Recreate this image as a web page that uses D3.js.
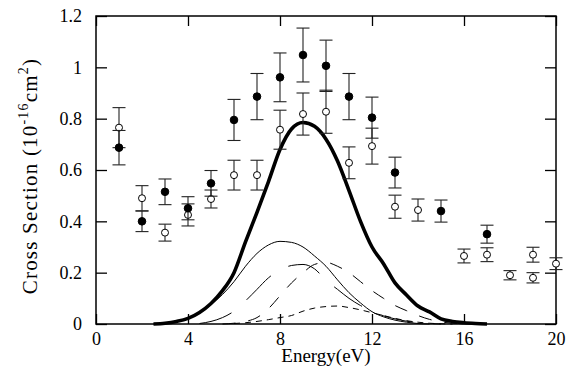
<!DOCTYPE html>
<html>
<head>
<meta charset="utf-8">
<script src="https://cdn.jsdelivr.net/npm/d3@7"></script>
<style>
  body { margin: 0; background: #fff; }
  svg { display: block; }
  .axis line { stroke: #000; stroke-width: 1.3; }
  .axis path { display: none; }
</style>
</head>
<body>
<div id="chart"></div>
<script>
// measured points (energy, cross section, error)
const filledE = [1, 2, 3, 4, 5, 6, 7, 8, 9, 10, 11, 12, 13, 15, 17];
const filledV = [0.687, 0.40, 0.515, 0.451, 0.548, 0.795, 0.886, 0.961, 1.048, 1.006, 0.886, 0.804, 0.59, 0.44, 0.35];
const filledErr = [0.067, 0.04, 0.05, 0.045, 0.05, 0.08, 0.09, 0.095, 0.105, 0.1, 0.09, 0.08, 0.06, 0.043, 0.035];

const openE = [1, 2, 3, 4, 5, 6, 7, 8, 9, 10, 11, 12, 13, 14, 16, 17, 18, 19, 19, 20];
const openV = [0.765, 0.49, 0.356, 0.425, 0.487, 0.58, 0.58, 0.757, 0.818, 0.827, 0.628, 0.693, 0.457, 0.444, 0.265, 0.27, 0.19, 0.27, 0.18, 0.235];
const openErr = [0.078, 0.049, 0.033, 0.043, 0.035, 0.058, 0.058, 0.076, 0.082, 0.084, 0.062, 0.07, 0.045, 0.043, 0.027, 0.027, 0.018, 0.029, 0.02, 0.023];

const curveE = [2.5, 3, 3.5, 4, 4.5, 5, 5.5, 6, 6.5, 7, 7.5, 8, 8.5, 9, 9.5, 10,
                10.5, 11, 11.5, 12, 12.5, 13, 13.5, 14, 14.5, 15, 15.5, 16, 16.5, 17];
const totalV = [0, 0.003, 0.01, 0.022, 0.045, 0.08, 0.13, 0.2, 0.32, 0.435, 0.555, 0.68, 0.76, 0.785, 0.77, 0.72,
                0.635, 0.52, 0.4, 0.3, 0.235, 0.16, 0.113, 0.07, 0.047, 0.02, 0.01, 0.005, 0.002, 0];
const comp1V = [0, 0.004, 0.011, 0.023, 0.042, 0.075, 0.115, 0.165, 0.225, 0.275, 0.308, 0.322, 0.318, 0.3, 0.265, 0.225,
                0.172, 0.122, 0.082, 0.048, 0.028, 0.015, 0.007, 0.002, 0, null, null, null, null, null];
const comp2V = [null, null, null, null, 0.002, 0.01, 0.025, 0.05, 0.09, 0.135, 0.18, 0.21, 0.228, 0.232, 0.215, 0.17,
                0.135, 0.1, 0.072, 0.05, 0.032, 0.02, 0.011, 0.005, 0.002, 0, null, null, null, null];
const comp3V = [null, null, null, null, null, null, 0, 0.003, 0.01, 0.025, 0.06, 0.11, 0.16, 0.2, 0.232, 0.24,
                0.225, 0.2, 0.165, 0.13, 0.1, 0.072, 0.052, 0.033, 0.018, 0.008, 0.003, 0, null, null];
const comp4V = [null, null, null, null, null, null, null, 0.002, 0.005, 0.01, 0.017, 0.025, 0.033, 0.05, 0.062, 0.068,
                0.07, 0.064, 0.055, 0.044, 0.033, 0.022, 0.013, 0.007, 0.003, 0.001, 0, null, null, null];

const xTicks = [0, 4, 8, 12, 16, 20];
const yTicks = [0, 0.2, 0.4, 0.6, 0.8, 1, 1.2];

const SERIF = '"Liberation Serif", "Times New Roman", serif';
const W = 574, H = 379;
const margin = { left: 96, top: 16, right: 18, bottom: 55 };
const width = W - margin.left - margin.right;
const height = H - margin.top - margin.bottom;

const svg = d3.select('#chart').append('svg')
    .attr('width', W)
    .attr('height', H)
    .attr('font-family', SERIF);

const g = svg.append('g')
    .attr('transform', `translate(${margin.left},${margin.top})`);

const x = d3.scaleLinear().domain([0, 20]).range([0, width]);
const y = d3.scaleLinear().domain([0, 1.2]).range([height, 0]);

function styleAxis(sel) {
    sel.attr('font-family', SERIF).attr('font-size', 18);
    sel.selectAll('text').attr('fill', '#000').attr('font-family', SERIF);
}

// axes, ticks pointing inward on all four sides
g.append('g').attr('class', 'axis')
    .attr('transform', `translate(0,${height})`)
    .call(d3.axisBottom(x).tickValues(xTicks).tickSize(-10).tickPadding(8).tickFormat(d3.format('d')))
    .call(styleAxis);
g.append('g').attr('class', 'axis')
    .call(d3.axisTop(x).tickValues(xTicks).tickSize(-10).tickFormat(''));
g.append('g').attr('class', 'axis')
    .call(d3.axisLeft(y).tickValues(yTicks).tickSize(-11).tickPadding(14).tickFormat(d => d === 0 || d === 1 ? d : d3.format('.1f')(d)))
    .call(styleAxis);
g.append('g').attr('class', 'axis')
    .attr('transform', `translate(${width},0)`)
    .call(d3.axisRight(y).tickValues(yTicks).tickSize(-11).tickFormat(''));

g.append('rect')
    .attr('width', width).attr('height', height)
    .attr('fill', 'none').attr('stroke', '#000').attr('stroke-width', 1.5);

// curves
const curves = [
    { v: totalV, w: 3.6, dash: null },
    { v: comp1V, w: 1, dash: null },
    { v: comp2V, w: 1, dash: '34,20' },
    { v: comp3V, w: 1, dash: '13,13' },
    { v: comp4V, w: 1, dash: '6,5' }
];
const line = d3.line()
    .defined(d => d[1] != null)
    .x(d => x(d[0])).y(d => y(d[1]))
    .curve(d3.curveMonotoneX);

curves.forEach(c => {
    g.append('path')
        .datum(curveE.map((e, i) => [e, c.v[i]]))
        .attr('fill', 'none')
        .attr('stroke', '#000')
        .attr('stroke-width', c.w)
        .attr('stroke-dasharray', c.dash)
        .attr('d', line);
});

// error bars + markers
function points(es, vs, errs, filled) {
    const data = es.map((e, i) => ({ e, v: vs[i], err: errs[i] }));
    const bars = g.append('g').attr('stroke', '#222').attr('stroke-width', 1.1);
    data.forEach(d => {
        const cx = x(d.e), y0 = y(d.v - d.err), y1 = y(d.v + d.err);
        bars.append('line').attr('x1', cx).attr('x2', cx).attr('y1', y0).attr('y2', y1);
        bars.append('line').attr('x1', cx - 6.5).attr('x2', cx + 6.5).attr('y1', y0).attr('y2', y0);
        bars.append('line').attr('x1', cx - 6.5).attr('x2', cx + 6.5).attr('y1', y1).attr('y2', y1);
    });
    g.append('g').selectAll('circle').data(data).join('circle')
        .attr('cx', d => x(d.e)).attr('cy', d => y(d.v))
        .attr('r', filled ? 3.8 : 3.5)
        .attr('fill', filled ? '#000' : '#fff')
        .attr('stroke', '#000').attr('stroke-width', 1);
}
points(openE, openV, openErr, false);
points(filledE, filledV, filledErr, true);

// axis titles
svg.append('text')
    .attr('x', margin.left + width / 2).attr('y', 362)
    .attr('text-anchor', 'middle').attr('font-size', 19)
    .text('Energy(eV)');

const yt = svg.append('text')
    .attr('transform', `translate(37,${margin.top + 160}) rotate(-90)`)
    .attr('text-anchor', 'middle').attr('font-size', 21)
    .attr('letter-spacing', 1.2);
yt.append('tspan').text('Cross Section (10');
yt.append('tspan').attr('font-size', 14).attr('dy', -9).text('-16');
yt.append('tspan').attr('dy', 9).text('cm');
yt.append('tspan').attr('font-size', 14).attr('dy', -9).text('2');
yt.append('tspan').attr('dy', 9).text(')');
</script>
</body>
</html>
